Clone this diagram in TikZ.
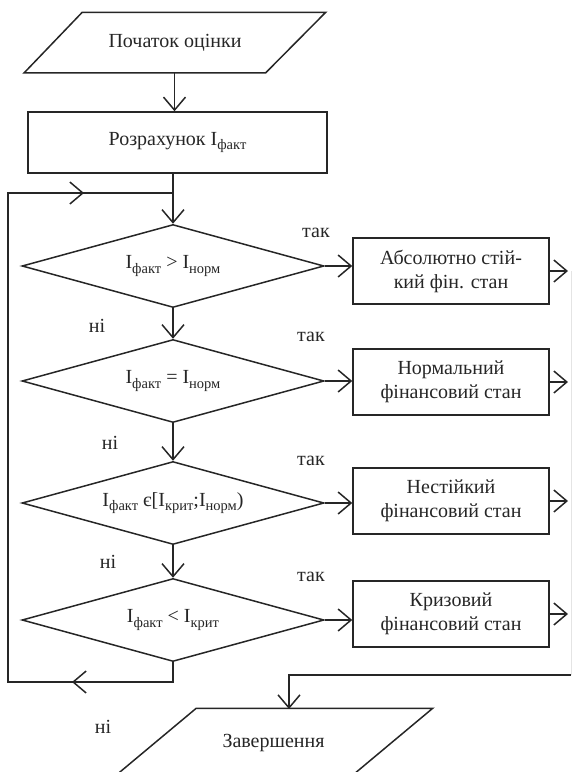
\documentclass[tikz,border=0pt]{standalone}
\usepackage{fontspec}
\setmainfont{Liberation Serif}
\usetikzlibrary{shapes.geometric,arrows.meta,calc}
\newcommand{\ix}[1]{\raisebox{-4.5pt}{\fontsize{14.5}{14.5}\selectfont #1}}
\begin{document}
\begin{tikzpicture}[x=1pt,y=-1pt,
  line width=1.5pt,
  every node/.style={font=\fontsize{20}{24}\selectfont, text=black!85},
  arr/.style={-{Straight Barb[length=13pt,width=22pt,line width=1.5pt]}},
  dec/.style={diamond, aspect=3.64, draw=black!85, minimum width=302pt, minimum height=83pt, inner sep=0pt},
  res/.style={rectangle, draw=black!85, minimum width=196pt, minimum height=66pt, inner sep=0pt, align=center, font=\fontsize{20}{24}\selectfont},
  lbl/.style={inner sep=0pt}
]
\useasboundingbox (0,0) rectangle (571,772);
\clip (0,0) rectangle (571,772);
\begin{scope}[draw=black!85]
% start
\node[minimum width=300pt, minimum height=59pt, inner sep=0pt] (start) at (175,42.5) {Початок оцінки};
\draw (start.south west) -- ($(start.north west)+(58,0)$) -- (start.north east) -- ($(start.south east)+(-60,0)$) -- cycle;
% computation
\node[draw=black!85, minimum width=299pt, minimum height=61pt, inner sep=0pt] (comp) at (177.5,142.5) {Розрахунок I\ix{факт}};
\draw[arr] (start.south -| comp.north) ++(-3,0) coordinate (s0) -- (s0 |- comp.north);
% decisions
\node[dec] (d1) at (173,266) {I\ix{факт} > I\ix{норм}};
\node[dec] (d2) at (173,381) {I\ix{факт} = I\ix{норм}};
\node[dec] (d3) at (173,503) {I\ix{факт} є[I\ix{крит};I\ix{норм})};
\node[dec] (d4) at (173,620) {I\ix{факт} < I\ix{крит}};
% results
\node[res] (b1) at (451,271) {Абсолютно стій-\\кий фін. стан};
\node[res] (b2) at (451,382) {Нормальний\\фінансовий стан};
\node[res] (b3) at (451,501) {Нестійкий\\фінансовий стан};
\node[res] (b4) at (451,614) {Кризовий\\фінансовий стан};
% end
\node[minimum width=317pt, minimum height=67pt, inner sep=0pt] (fin) at (273.5,742.5) {Завершення};
\draw (fin.south west) -- ($(fin.north west)+(82,0)$) -- (fin.north east) -- ($(fin.south east)+(-82,0)$) -- cycle;
% main flow
\draw[arr] (comp.south -| d1) -- (d1.north);
\draw[arr] (d1.south) -- (d2.north);
\draw[arr] (d2.south) -- (d3.north);
\draw[arr] (d3.south) -- (d4.north);
% yes arrows
\draw[arr] (d1.east) -- (b1.west |- d1.east);
\draw[arr] (d2.east) -- (b2.west |- d2.east);
\draw[arr] (d3.east) -- (b3.west |- d3.east);
\draw[arr] (d4.east) -- (b4.west |- d4.east);
\coordinate (rx) at (568,0);
\draw[arr] (b1.east) -- (b1.east -| rx);
\draw[arr] (b2.east) -- (b2.east -| rx);
\draw[arr] (b3.east) -- (b3.east -| rx);
\draw[arr] (b4.east) -- (b4.east -| rx);
\coordinate (rbot) at (571,675);
\coordinate (endin) at (289,709);
\draw[line width=1pt] (b1.east -| rbot) -- (rbot);
\draw[arr] (rbot) -| (endin);
% loop
\coordinate (lb) at (8,682);
\coordinate (lt) at (8,193);
\coordinate (jn) at (173,193);
\coordinate (ma) at (72,682);
\coordinate (mb) at (84,193);
\draw (d4.south) |- (lb) -- (lt) -- (jn);
\draw[arr] (d4.south |- lb) -- (ma);
\draw[arr] (lt) -- (mb);
\end{scope}
% labels
\node[lbl] (t1) at (316,233) {так};
\node[lbl] (t2) at (311,337) {так};
\node[lbl] (t3) at (311,461) {так};
\node[lbl] (t4) at (311,577) {так};
\node[lbl] (n1) at (97,326) {ні};
\node[lbl] (n2) at (110,443) {ні};
\node[lbl] (n3) at (108,562) {ні};
\node[lbl] (n4) at (103,727) {ні};
\end{tikzpicture}
\end{document}
